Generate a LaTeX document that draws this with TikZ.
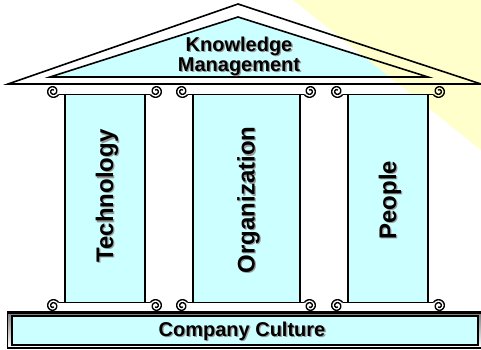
\documentclass[tikz,border=0pt]{standalone}
\usepackage{fontspec}
\setmainfont{Liberation Sans}
\definecolor{pillar}{HTML}{CCFFFF}
\definecolor{beam}{HTML}{FFFFCC}
\definecolor{shade}{HTML}{999999}
\tikzset{
  outline/.style={draw=black, line width=1.3pt},
  rooftext/.style={font=\bfseries\fontsize{20}{20}\selectfont, align=center, inner sep=0pt},
  pillartext/.style={font=\bfseries\fontsize{24}{24}\selectfont, inner sep=0pt, rotate=90, anchor=base},
  basetext/.style={font=\bfseries\fontsize{20}{20}\selectfont, inner sep=0pt, anchor=base},
}
% label with a soft grey drop shadow: name, x, y, style, text
\newcommand\shadowlabel[5]{%
  \node[#4, text=shade] at (#2+1.3, #3+1.3) {#5};
  \node[#4] (#1) at (#2, #3) {#5};
}
% ionic volute: centre x, centre y, start angle, turning sense (1 or -1)
\newcommand\scrollcurl[4]{%
  \draw[line width=1.4pt] plot[smooth, domain=0:640, samples=60, variable=\t]
    ({#1 + 6.5*(1-\t/780)*cos(#3 + #4*\t)}, {#2 + 6.5*(1-\t/780)*sin(#3 + #4*\t)});
}
\begin{document}
\begin{tikzpicture}[x=1pt, y=-1pt]
\useasboundingbox (0,0) rectangle (481,349);

% roof panel
\fill[pillar] (50,77) -- (238,17) -- (428,77) -- cycle;
% light beam in the upper right corner
\fill[beam] (293,0) -- (481,0) -- (481,150) -- cycle;
% roof outlines
\draw[line width=1.6pt, line join=miter] (8,84) -- (238,4) -- (481,84) -- cycle;
\draw[line width=1.6pt, line join=miter] (50,77) -- (238,17) -- (428,77) -- cycle;
\shadowlabel{km}{239}{56}{rooftext}{Knowledge\\Management}

% pillars with their volutes
\foreach \xa/\xb/\ca/\cb in {65/145/53/156, 193/300/182/310, 348/428/337/439}{
  \filldraw[fill=pillar, outline] (\xa,94.5) rectangle (\xb,302.5);
  \draw[line width=1.3pt] (\ca+5.6,94.5) -- (\cb-5.6,94.5);
  \draw[line width=1.3pt] (\ca+5.6,302.5) -- (\cb-5.6,302.5);
  \scrollcurl{\ca}{91.25}{30}{1}
  \scrollcurl{\cb}{91.25}{150}{-1}
  \scrollcurl{\ca}{305.75}{-30}{-1}
  \scrollcurl{\cb}{305.75}{210}{1}
}
\shadowlabel{tech}{113}{196}{pillartext}{Technology}
\shadowlabel{org}{254.5}{200}{pillartext}{Organization}
\shadowlabel{people}{396}{200}{pillartext}{People}

% foundation
\draw[shade, line width=1.2pt, fill=white] (7.5,313) rectangle (484,348);
\filldraw[fill=pillar, draw=black, line width=1.2pt] (12,316) rectangle (478,345);
\draw[line width=1.5pt] (7,312) -- (481,312);
\shadowlabel{culture}{242}{336}{basetext}{Company Culture}
\end{tikzpicture}
\end{document}
